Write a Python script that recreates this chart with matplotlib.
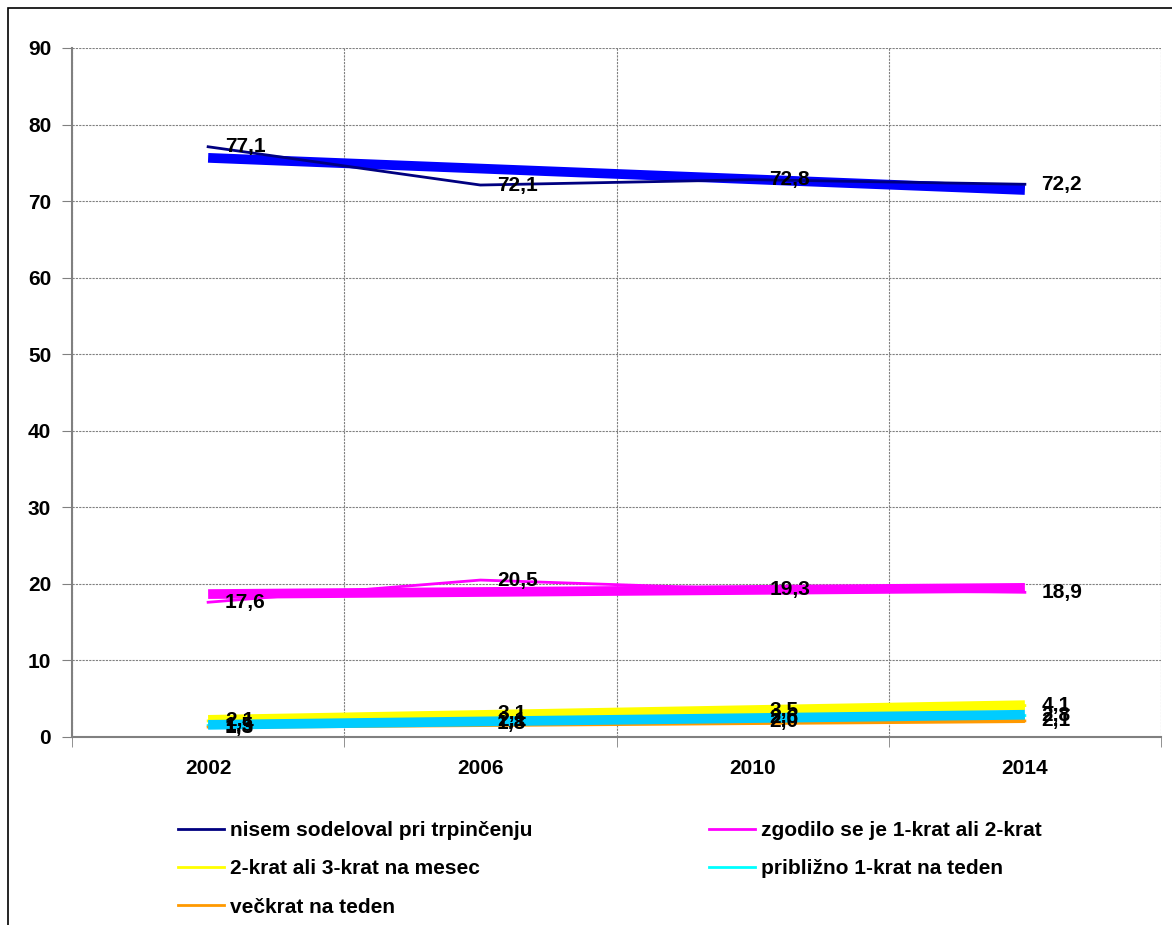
import matplotlib.pyplot as plt
import matplotlib.patches as patches
import numpy as np

plt.rcParams['font.family'] = ['Liberation Sans', 'DejaVu Sans']
plt.rcParams['font.weight'] = 'bold'

years = ["2002", "2006", "2010", "2014"]
nisem = [77.1, 72.1, 72.8, 72.2]
zgodilo = [17.6, 20.5, 19.3, 18.9]
mesec = [2.1, 3.1, 3.5, 4.1]
teden = [1.5, 2.1, 2.6, 2.8]
veckrat = [1.3, 1.8, 2.0, 2.1]

labels = ["nisem sodeloval pri trpinčenju", "zgodilo se je 1-krat ali 2-krat",
          "2-krat ali 3-krat na mesec", "približno 1-krat na teden",
          "večkrat na teden"]
series = [nisem, zgodilo, mesec, teden, veckrat]
line_colors = ["#000080", "#FF00FF", "#FFFF00", "#00FFFF", "#FF9900"]
trend_colors = ["#0000FF", "#FF00FF", "#FFFF00", "#00CCFF", "#FF9900"]
trend_widths = [7, 7, 7, 7, 4]
trend_z = [3, 3, 4, 5, 3.5]
line_z = [6, 6, 2, 2, 2]

fig = plt.figure(figsize=(11.72, 9.25), dpi=100)
ax = fig.add_axes([72/1172, 1-737/925, (1161-72)/1172, (737-48)/925])

x = np.arange(len(years))

# linear trendlines like in excel
for s, c, w, z in zip(series, trend_colors, trend_widths, trend_z):
    k, b = np.polyfit(x, s, 1)
    ax.plot(x, k*x + b, color=c, lw=w, zorder=z, solid_capstyle='butt')

# data lines + labels
handles = []
for s, c, lab, z in zip(series, line_colors, labels, line_z):
    ln, = ax.plot(x, s, color=c, lw=2, zorder=z, label=lab)
    handles.append(ln)
    for xi, v in zip(x, s):
        ax.annotate(f"{v:.1f}".replace('.', ','), (xi, v), xytext=(12, 0),
                    textcoords='offset points', ha='left', va='center',
                    fontsize=15, fontweight='bold', zorder=8)

ax.set_xlim(-0.5, 3.5)
ax.set_ylim(0, 90)
ax.set_yticks(range(0, 91, 10))
ax.set_xticks(x)
ax.set_xticklabels(years)
ax.set_xticks(np.arange(-0.5, 3.6, 1), minor=True)

ax.tick_params(axis='x', which='major', length=0, pad=16, labelsize=15)
ax.tick_params(axis='x', which='minor', length=7, direction='out', color='#808080')
ax.tick_params(axis='y', length=7, direction='out', color='#808080', pad=8, labelsize=15)

ax.grid(axis='y', which='major', color='#808080', lw=0.8, linestyle=(0, (2, 1)))
ax.grid(axis='x', which='minor', color='#808080', lw=0.8, linestyle=(0, (2, 1)))
ax.set_axisbelow(True)

for side in ['top', 'right']:
    ax.spines[side].set_visible(False)
for side in ['left', 'bottom']:
    ax.spines[side].set_color('#808080')
    ax.spines[side].set_linewidth(1.5)

# legend, two columns filled row by row
leg_kw = dict(frameon=False, fontsize=15, handlelength=2.2, handletextpad=0.3,
              labelspacing=0.93, borderpad=0, borderaxespad=0, loc='upper left')
fig.legend([handles[0], handles[2], handles[4]],
           [labels[0], labels[2], labels[4]],
           bbox_to_anchor=(178/1172, 1-821/925), **leg_kw)
fig.legend([handles[1], handles[3]], [labels[1], labels[3]],
           bbox_to_anchor=(709/1172, 1-821/925), **leg_kw)

# outer chart border
border = patches.Rectangle((8/1172, -0.05), 1.1, 1-8/925+0.05, transform=fig.transFigure,
                           fill=False, edgecolor='black', lw=1.2, clip_on=False)
fig.add_artist(border)

fig.savefig("out.png", dpi=100)
